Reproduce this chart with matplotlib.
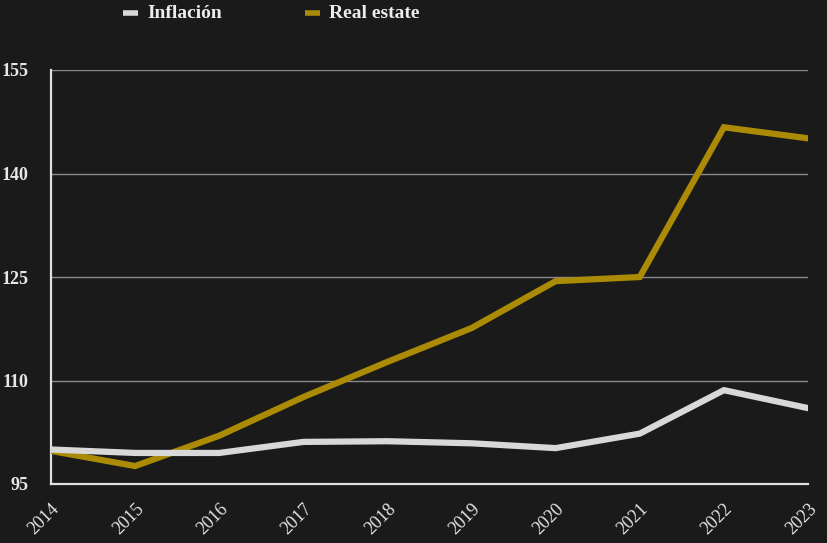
import matplotlib
matplotlib.use("Agg")
import matplotlib.pyplot as plt
from matplotlib.lines import Line2D
from matplotlib.transforms import ScaledTranslation

years = ["2014", "2015", "2016", "2017", "2018", "2019", "2020", "2021", "2022", "2023"]
inflacion = [100.0, 99.5, 99.5, 101.1, 101.2, 100.9, 100.2, 102.3, 108.6, 106.0]
real_estate = [99.8, 97.6, 102.0, 107.6, 112.7, 117.6, 124.4, 125.0, 146.7, 145.1]
yticks = [95, 110, 125, 140, 155]
series_names = ["Inflación", "Real estate"]

BG = "#1a1a1a"
GOLD = "#ab8b05"
WHITE = "#d8d8d8"
FONT = "Liberation Serif"
W, H = 828, 543

fig = plt.figure(figsize=(8.28, 5.43), dpi=100, facecolor=BG)
ax = fig.add_axes([51 / W, 1 - 484 / H, (808 - 51) / W, (484 - 70) / H], facecolor=BG)

x = list(range(len(years)))
ax.plot(x, real_estate, color=GOLD, lw=4.5, solid_joinstyle="miter", zorder=3)
ax.plot(x, inflacion, color=WHITE, lw=4.5, solid_joinstyle="miter", zorder=4)

ax.set_xlim(0, len(years) - 1)
ax.set_ylim(95, 155)
ax.set_yticks(yticks)
ax.set_yticklabels([str(v) for v in yticks], fontfamily=FONT, fontweight="bold",
                   fontsize=13, color="#e6e6e6")
ax.set_xticks(x)
ax.set_xticklabels(years, rotation=45, ha="right", rotation_mode="anchor",
                   fontfamily=FONT, fontsize=13, color="#e6e6e6")
off = ScaledTranslation(-7 / 100, 0, fig.dpi_scale_trans)
for lab in ax.get_xticklabels():
    lab.set_transform(lab.get_transform() + off)
ax.tick_params(axis="both", length=0)
ax.tick_params(axis="y", pad=16)
ax.tick_params(axis="x", pad=12)

for v in yticks[1:]:
    ax.axhline(v, color="#8a8a8a", lw=1.0, zorder=1)

for s in ["top", "right"]:
    ax.spines[s].set_visible(False)
for s in ["left", "bottom"]:
    ax.spines[s].set_color("#e0e0e0")
    ax.spines[s].set_linewidth(1.6)

# legend drawn at top
legend_items = [(series_names[0], WHITE, 123), (series_names[1], GOLD, 305)]
ly = 1 - 13 / H
for name, col, px in legend_items:
    fig.add_artist(Line2D([px / W, (px + 15) / W], [ly, ly], color=col, lw=4,
                          transform=fig.transFigure, solid_capstyle="butt"))
    fig.text((px + 24) / W, ly, name, color="#ececec", fontfamily=FONT,
             fontweight="bold", fontsize=14, va="center", ha="left")

fig.savefig("out.png", dpi=100, facecolor=BG)
